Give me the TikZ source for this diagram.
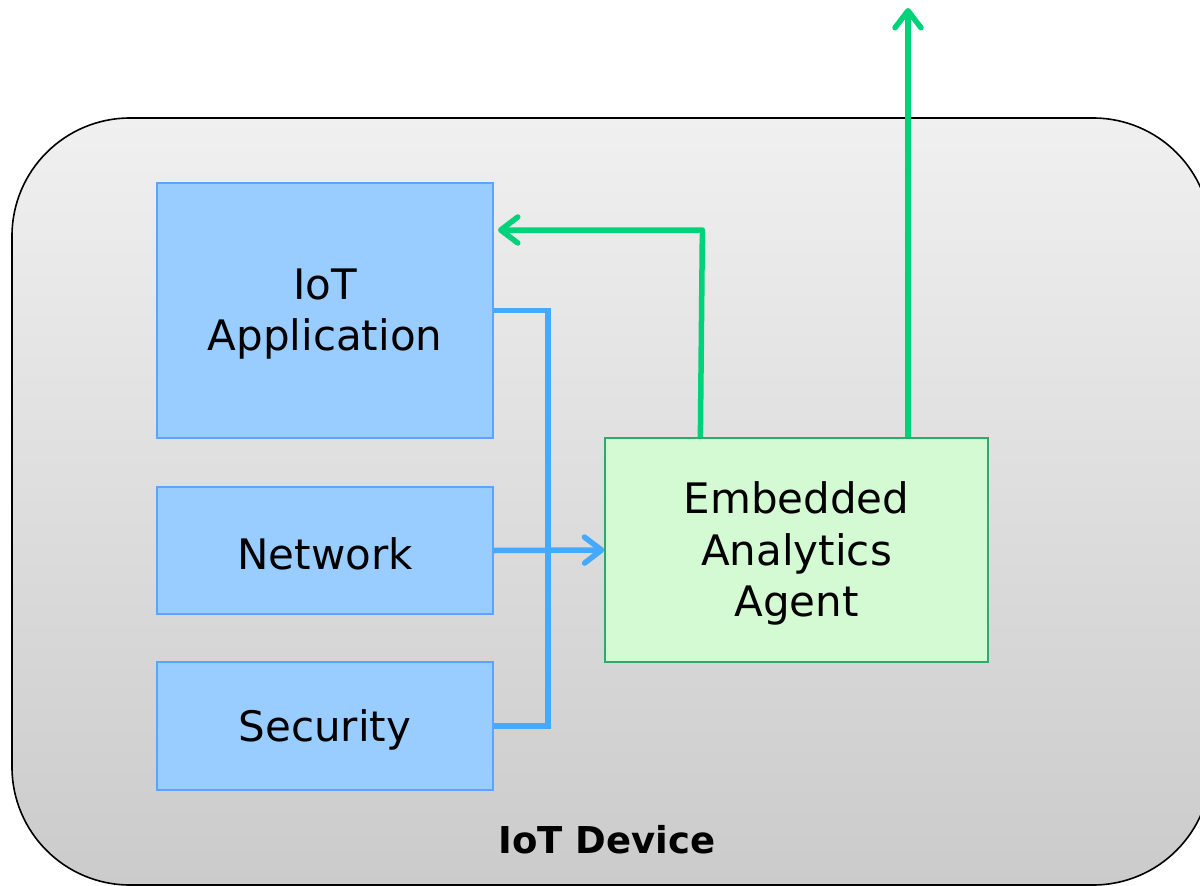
\documentclass[tikz,border=0pt]{standalone}
\usepackage{fontspec}
\setmainfont{DejaVu Sans}
\usetikzlibrary{arrows.meta,calc}
\definecolor{devtop}{HTML}{F0F0F0}
\definecolor{devbot}{HTML}{CBCBCB}
\definecolor{modfill}{HTML}{99CCFF}
\definecolor{moddraw}{HTML}{5CA4FF}
\definecolor{agentfill}{HTML}{D4FAD4}
\definecolor{agentdraw}{HTML}{2EAA6A}
\definecolor{feedblue}{HTML}{44AAFF}
\definecolor{outgreen}{HTML}{00D27A}
\begin{document}
\begin{tikzpicture}[x=1pt,y=-1pt,
  device/.style={draw=black, line width=1.6pt, rounded corners=118pt,
    top color=devtop, bottom color=devbot},
  boxtext/.style={align=center, inner sep=0pt, yshift=-3.5pt,
    font=\fontsize{42}{51.5}\selectfont},
  module/.style={draw=moddraw, fill=modfill, line width=1.5pt,
    minimum width=336pt, inner sep=0pt,
    label={[boxtext]center:#1}},
  agentbox/.style={draw=agentdraw, fill=agentfill, line width=1.5pt,
    minimum width=383pt, minimum height=224pt, inner sep=0pt,
    label={[boxtext]center:#1}},
  feed/.style={draw=feedblue, line width=5.5pt},
  outflow/.style={draw=outgreen, line width=5.5pt},
  tip/.style={-{Straight Barb[length=17pt,width=26pt,round]}}]
\useasboundingbox (0,0) rectangle (1200,886);

% device enclosure
\path[device] (12,118) rectangle (1211,885);
\node[font=\fontsize{37}{44}\selectfont\bfseries] (devlabel) at (607,840) {IoT Device};

% software modules
\node[module={IoT\\Application}, minimum height=255pt] (app) at (325,310.5) {};
\node[module={Network}, minimum height=127pt] (net) at (325,550.5) {};
\node[module={Security}, minimum height=128pt] (sec) at (325,726) {};
\node[agentbox={Embedded\\Analytics\\Agent}] (agent) at (796.5,550) {};

% telemetry bus into the agent
\coordinate (bus) at (548,500);
\draw[feed, line join=miter] (app.east) -- (app.east -| bus) -- (sec.east -| bus) -- (sec.east);
\draw[feed, tip] (net.east) -- (agent.west);

% agent outputs
\coordinate (feedback) at (498,230);
\coordinate (tap) at ($(agent.north west)!0.25!(agent.north east)$);
\draw[outflow, tip, line join=round] (tap) -- ([xshift=2pt]tap |- feedback) -- (feedback);
\coordinate (cloud) at (908,8);
\draw[outflow, tip] (agent.north -| cloud) -- (cloud);
\end{tikzpicture}
\end{document}
